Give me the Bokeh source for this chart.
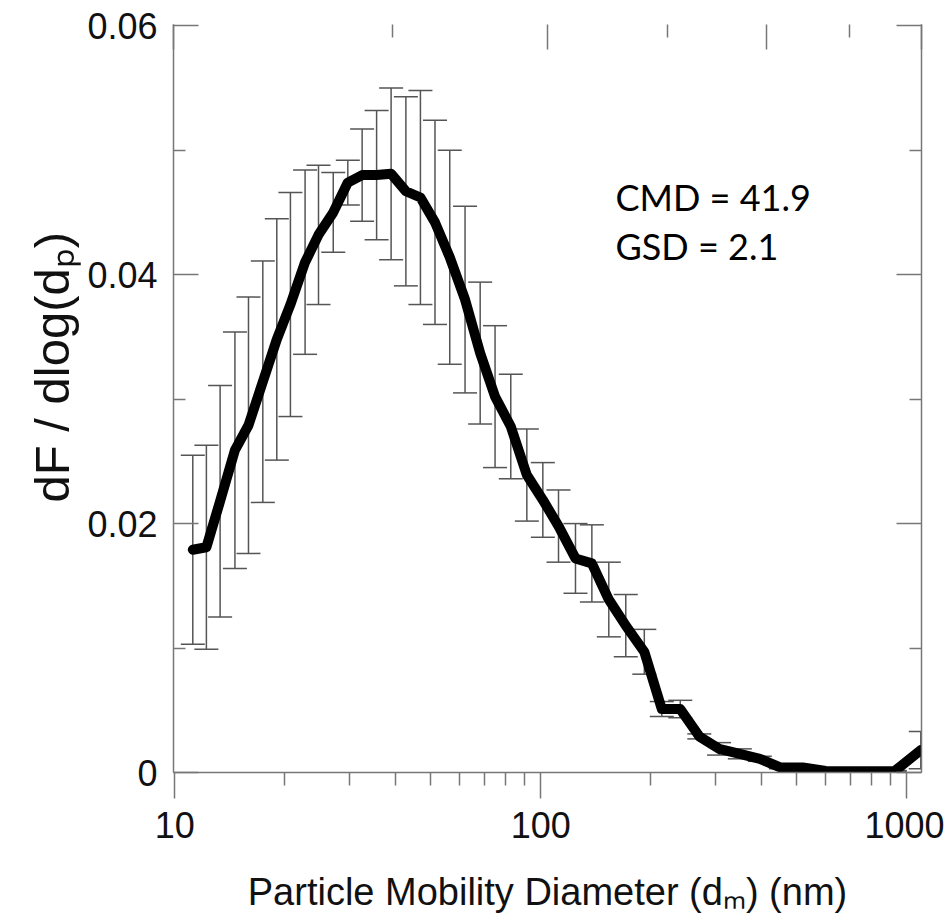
from bokeh.plotting import figure
from bokeh.models import (ColumnDataSource, Whisker, TeeHead, FixedTicker, LinearAxis,
                          Range1d, CustomJSTickFormatter, Label, Title)
from bokeh.embed import file_html
from bokeh.resources import INLINE

# ---- data ----
diameter_nm = [11.2, 12.2, 13.3, 14.6, 15.9, 17.4, 19.0, 20.7, 22.7, 24.7,
               27.1, 29.7, 32.5, 35.6, 39.0, 42.8, 46.9, 51.4, 56.4, 62.1,
               68.3, 75.0, 82.8, 91.6, 101.3, 111.8, 124.4, 137.9, 153.4, 170.7,
               191.8, 214.1, 240.5, 271.1, 307.0, 349.8, 396.7, 452.7, 519.8, 600.7,
               694.2, 802.3, 927.3, 1092.0]
dF_dlogdp = [0.0179, 0.0181, 0.0218, 0.0259, 0.0279, 0.0314, 0.0348, 0.0376, 0.0410, 0.0432,
             0.0450, 0.0474, 0.0480, 0.0480, 0.0481, 0.0467, 0.0462, 0.0442, 0.0414, 0.0380,
             0.0337, 0.0302, 0.0278, 0.0239, 0.0219, 0.0198, 0.0172, 0.0168, 0.0139, 0.0118,
             0.0097, 0.0051, 0.0051, 0.0029, 0.0019, 0.0015, 0.0011, 0.0004, 0.0004, 0.00012,
             0.0001, 0.0001, 0.00012, 0.0018]
error = [0.0076, 0.0082, 0.0093, 0.0095, 0.0103, 0.0097, 0.0097, 0.0090, 0.0074, 0.0056,
         0.0032, 0.0018, 0.0037, 0.0052, 0.0069, 0.0076, 0.0086, 0.0082, 0.0086, 0.0075,
         0.0057, 0.0057, 0.0042, 0.0037, 0.0030, 0.0029, 0.0028, 0.0031, 0.0030, 0.0025,
         0.0018, 0.0006, 0.0007, 0.0002, 0.0005, 0.0004, 0.0002, 0.0001, 0.0001, 0.00005,
         0.00005, 0.00005, 0.00005, 0.0015]
x_major_ticks = [10, 100, 1000]
x_minor_ticks = [20, 30, 40, 50, 60, 70, 80, 90, 200, 300, 400, 500, 600, 700, 800, 900]
y_major_ticks = [0, 0.02, 0.04, 0.06]
y_minor_ticks = [0.01, 0.03, 0.05]
top_major_ticks = [0, 1, 2, 3, 4]
top_minor_ticks = [0.5, 1.5, 2.5, 3.5]
annotation_lines = ["CMD = 41.9", "GSD = 2.1"]

source = ColumnDataSource(dict(
    d=diameter_nm, f=dF_dlogdp,
    upper=[v + e for v, e in zip(dF_dlogdp, error)],
    lower=[v - e for v, e in zip(dF_dlogdp, error)],
))

AX = "#777777"
p = figure(width=944, height=924, x_axis_type="log",
           x_range=Range1d(9.92, 1097), y_range=Range1d(0, 0.0601),
           output_backend="svg", toolbar_location=None,
           min_border_left=173, min_border_right=23, min_border_top=24, min_border_bottom=152)
p.outline_line_color = None
p.xgrid.visible = False
p.ygrid.visible = False
p.background_fill_color = "white"
p.border_fill_color = "white"

def style_axis(ax, tin, tout, mtin, mtout):
    ax.axis_line_color = AX
    ax.axis_line_width = 1.5
    ax.major_tick_line_color = AX
    ax.major_tick_line_width = 1.5
    ax.minor_tick_line_color = AX
    ax.minor_tick_line_width = 1.5
    ax.major_tick_in = tin
    ax.major_tick_out = tout
    ax.minor_tick_in = mtin
    ax.minor_tick_out = mtout

# bottom axis
xa = p.xaxis[0]
xa.ticker = FixedTicker(ticks=x_major_ticks, minor_ticks=x_minor_ticks)
xa.formatter = CustomJSTickFormatter(code="return Math.round(tick).toString();")
style_axis(xa, 0, 26, 0, 13)
xa.major_label_text_font = "Liberation Sans"
xa.major_label_text_font_size = "36px"
xa.major_label_text_color = "#111111"
xa.major_label_standoff = 13
xa.axis_label = "Particle Mobility Diameter (d\u2098) (nm)"
xa.axis_label_text_font = "Liberation Sans"
xa.axis_label_text_font_size = "38px"
xa.axis_label_text_font_style = "normal"
xa.axis_label_text_color = "#111111"
xa.axis_label_standoff = 30

# left axis
ya = p.yaxis[0]
ya.ticker = FixedTicker(ticks=y_major_ticks, minor_ticks=y_minor_ticks)
ya.formatter = CustomJSTickFormatter(code="return tick == 0 ? '0' : tick.toFixed(2);")
style_axis(ya, 25, 0, 12, 0)
ya.major_label_text_font = "Liberation Sans"
ya.major_label_text_font_size = "36px"
ya.major_label_text_color = "#111111"
ya.major_label_standoff = 16

# y axis title, starting above the frame bottom as in the reference
p.add_layout(Title(text="dF / dlog(d\u209a)", align="left", offset=270, standoff=8,
                   vertical_align="top",
                   text_font="Liberation Sans", text_font_size="49px",
                   text_font_style="normal", text_color="#111111"), "left")

# right mirror axis
ra = LinearAxis(ticker=FixedTicker(ticks=y_major_ticks, minor_ticks=y_minor_ticks),
                formatter=CustomJSTickFormatter(code="return '';"))
style_axis(ra, 25, 0, 12, 0)
ra.major_label_standoff = 0
p.add_layout(ra, "right")

# top axis (linear secondary scale)
p.extra_x_ranges = {"top": Range1d(0, 4)}
ta = LinearAxis(x_range_name="top",
                ticker=FixedTicker(ticks=top_major_ticks, minor_ticks=top_minor_ticks),
                formatter=CustomJSTickFormatter(code="return '';"))
style_axis(ta, 25, 0, 13, 0)
ta.major_label_standoff = 0
p.add_layout(ta, "above")

# error bars
wh = Whisker(source=source, base="d", upper="upper", lower="lower",
             line_color="#555555", line_width=1.5,
             upper_head=TeeHead(size=24, line_color="#555555", line_width=1.5),
             lower_head=TeeHead(size=24, line_color="#555555", line_width=1.5))
p.add_layout(wh)

# main curve
p.line("d", "f", source=source, line_color="black", line_width=10,
       line_join="round", line_cap="round")

# annotation
for i, t in enumerate(annotation_lines):
    p.add_layout(Label(x=442, y=576 - 49 * i, x_units="screen", y_units="screen",
                       text=t, text_align="left", text_baseline="alphabetic",
                       text_font="Lato", text_font_size="36px", text_color="black"))

open("out.html", "w").write(file_html(p, INLINE))
